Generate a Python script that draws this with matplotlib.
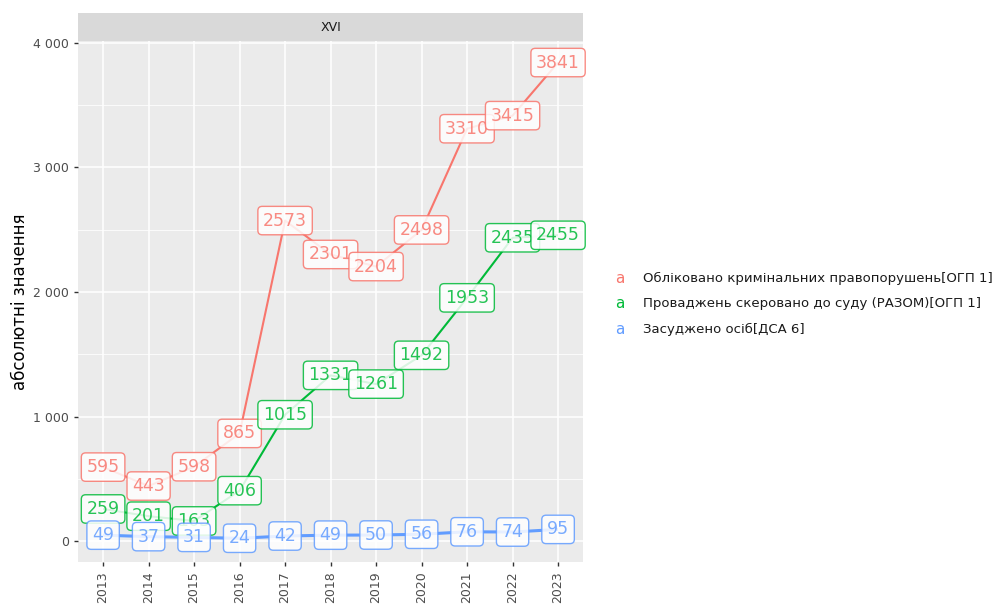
import matplotlib
matplotlib.use("Agg")
import matplotlib.pyplot as plt
from matplotlib.ticker import FixedLocator, FuncFormatter

years = [2013, 2014, 2015, 2016, 2017, 2018, 2019, 2020, 2021, 2022, 2023]
registered = [595, 443, 598, 865, 2573, 2301, 2204, 2498, 3310, 3415, 3841]
to_court = [259, 201, 163, 406, 1015, 1331, 1261, 1492, 1953, 2435, 2455]
convicted = [49, 37, 31, 24, 42, 49, 50, 56, 76, 74, 95]
series_names = [
    "Обліковано кримінальних правопорушень[ОГП 1]",
    "Проваджень скеровано до суду (РАЗОМ)[ОГП 1]",
    "Засуджено осіб[ДСА 6]",
]
colors = ["#F8766D", "#00BA38", "#619CFF"]
facet_title = "XVI"
y_label = "абсолютні значення"

fig = plt.figure(figsize=(10.01, 6.05), dpi=100)
ax = fig.add_axes([0.078, 0.071, 0.5045, 0.861])
ax.set_facecolor("#EBEBEB")
for s in ax.spines.values():
    s.set_visible(False)

all_series = [registered, to_court, convicted]
lws = [1.5, 1.5, 2.2]
for vals, c, lw in zip(all_series, colors, lws):
    ax.plot(years, vals, color=c, lw=lw, zorder=2, solid_capstyle="butt")

z = 3
for vals, c in zip(all_series, colors):
    for x, v in zip(years, vals):
        ax.text(x, v, str(v), ha="center", va="center", fontsize=12.5, color=c,
                alpha=0.85, zorder=z,
                bbox=dict(boxstyle="round,pad=0.3,rounding_size=0.25",
                          facecolor="white", edgecolor=c, linewidth=1.0, alpha=0.85))
        z += 0.01

allv = registered + to_court + convicted
lo, hi = min(allv), max(allv)
rng = hi - lo
ax.set_ylim(lo - 0.05 * rng, hi + 0.045 * rng)
ax.set_xlim(years[0] - 0.55, years[-1] + 0.55)

ax.set_xticks(years)
ax.set_xticklabels([str(y) for y in years], rotation=90, fontsize=9, color="#4D4D4D")
ax.yaxis.set_major_locator(FixedLocator([0, 1000, 2000, 3000, 4000]))
ax.yaxis.set_minor_locator(FixedLocator([500, 1500, 2500, 3500]))
ax.yaxis.set_major_formatter(FuncFormatter(lambda v, p: f"{int(v):,}".replace(",", " ")))
ax.tick_params(axis="y", labelsize=9, labelcolor="#4D4D4D", color="#333333", length=3, width=1)
ax.tick_params(axis="x", color="#333333", length=3, width=1)
ax.tick_params(axis="y", which="minor", length=0)
ax.grid(True, which="major", color="white", lw=1.1, zorder=0)
ax.grid(True, which="minor", axis="y", color="white", lw=0.55, zorder=0)
ax.set_axisbelow(True)
ax.set_ylabel(y_label, fontsize=12, color="black", labelpad=3)

# facet strip
strip = fig.add_axes([0.078, 0.932, 0.5045, 0.046])
strip.set_facecolor("#D9D9D9")
strip.set_xticks([]); strip.set_yticks([])
for s in strip.spines.values():
    s.set_visible(False)
strip.text(0.5, 0.5, facet_title, ha="center", va="center", fontsize=9, color="#1A1A1A")

# legend
leg_y = [0.539, 0.498, 0.455]
for name, c, yy in zip(series_names, colors, leg_y):
    fig.text(0.619, yy, "a", color=c, fontsize=11, ha="center", va="center")
    fig.text(0.642, yy, name, color="#1A1A1A", fontsize=9.5, ha="left", va="center")

fig.savefig("out.png", dpi=100)
